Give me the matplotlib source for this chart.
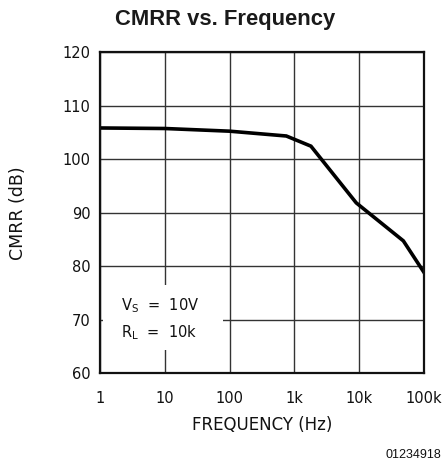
import matplotlib
matplotlib.use("Agg")
import matplotlib.pyplot as plt
from matplotlib.patches import Rectangle

# ---- data ----
freq_hz = [1, 10, 100, 750, 1800, 9000, 48000, 100000]
cmrr_db = [105.8, 105.7, 105.2, 104.3, 102.4, 91.8, 84.7, 78.8]
x_ticks = [1, 10, 100, 1000, 10000, 100000]
x_tick_labels = ["1", "10", "100", "1k", "10k", "100k"]
y_ticks = [60, 70, 80, 90, 100, 110, 120]
title = "CMRR vs. Frequency"
x_label = "FREQUENCY (Hz)"
y_label = "CMRR (dB)"
note = "$\\mathregular{V_S}$  =  10V\n$\\mathregular{R_L}$  =  10k"
code = "01234918"

W, H = 443, 476
fig = plt.figure(figsize=(W / 100, H / 100), dpi=100)
fig.patch.set_facecolor("white")

ax = fig.add_axes([100 / W, 1 - 373 / H, 324 / W, 321 / H])
ax.set_xscale("log")
ax.set_xlim(1, 1e5)
ax.set_ylim(60, 120)
ax.set_xticks(x_ticks)
ax.set_xticklabels(x_tick_labels)
ax.set_yticks(y_ticks)
ax.minorticks_off()
ax.tick_params(length=0, labelsize=10.5, colors="#111111")
ax.tick_params(axis="y", pad=7)
ax.tick_params(axis="x", pad=13)
ax.grid(True, color="#333333", linewidth=1.0, zorder=1)
for s in ax.spines.values():
    s.set_linewidth(1.6)
    s.set_color("#111111")
    s.set_zorder(5)

ax.plot(freq_hz, cmrr_db, color="black", linewidth=2.6, zorder=4,
        solid_joinstyle="miter")

# white panel behind the condition note (interrupts the grid)
ax.add_patch(Rectangle((0.009, 0.072), 0.372, 0.202, transform=ax.transAxes,
                       facecolor="white", edgecolor="none", zorder=2))
ax.text(0.065, 0.167, note, transform=ax.transAxes, fontsize=10.5,
        ha="left", va="center", linespacing=1.6, color="#111111", zorder=3)

fig.text(225 / W, 1 - 25 / H, title, ha="center", va="baseline", fontsize=15.8,
         fontweight="bold", family="Liberation Sans", color="#1a1a1a")
fig.text(262 / W, 1 - 425 / H, x_label, ha="center", va="center", fontsize=12,
         color="#111111")
fig.text(18 / W, 1 - 213 / H, y_label, ha="center", va="center", fontsize=12.5,
         rotation=90, color="#111111")
fig.text(441 / W, 1 - 455 / H, code, ha="right", va="center", fontsize=9,
         family="Liberation Sans", color="#111111")

fig.savefig("out.png", dpi=100, facecolor="white")
